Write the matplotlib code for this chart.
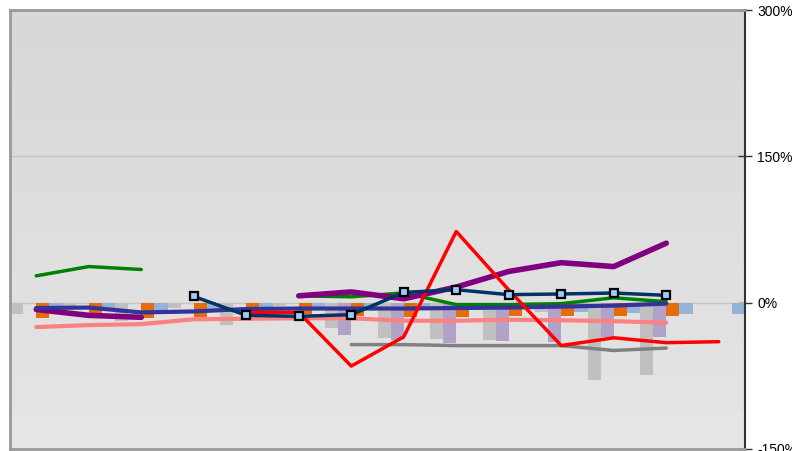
import matplotlib
matplotlib.use("Agg")
import matplotlib.pyplot as plt
import numpy as np
from matplotlib.ticker import FuncFormatter, FixedLocator

nan = np.nan
cats = np.arange(14)

# bar series (percent)
bar_gray   = [-12, -3, -19, -5, -23, -3, -26, -36, -37, -38, -10, -79, -74, nan]
bar_lav    = [nan, nan, nan, nan, nan, nan, -33, -38, -41, -39, -40, -35, -35, nan]
bar_orange = [-16, -16, -16, -15, -10, -12, -14, -15, -15, -14, -14, -14, -14, nan]
bar_blue   = [-8, -8, -8, -8, -8, -5, -5, -5, -5, -5, -10, -11, -12, -12]

# line series (percent)
green  = [27.5, 37, 34, nan, nan, 7, 6, 10, -2, -2, -1, 5, 1, nan]
purple = [-7, -13, -15, nan, nan, 7, 11, 4, 16, 32, 41, 37, 61, nan]
red    = [nan, nan, nan, nan, -10, -10, -65, -35, 73, 13, -44, -36, -41, -40]
navy   = [nan, nan, nan, 6.4, -13, -14, -12.3, 10.5, 13.3, 8.2, 8.9, 9.9, 7.5, nan]
indigo = [-5.5, -5, -10, -9, -6.5, -6, -6, -6, -5.5, -5, -4, -3, -1, nan]
pink   = [-25, -23, -22, -17, -16.5, -16, -16, -18.5, -18.5, -17.5, -18, -19, -20.5, nan]
grayl  = [nan, nan, nan, nan, nan, nan, -43, -43, -44, -44, -44, -49, -46.5, nan]

yticks = [-150, 0, 150, 300]

fig = plt.figure(figsize=(7.92, 4.51), dpi=100)
ax = fig.add_axes([10 / 792, 2 / 451, 735 / 792, 439 / 451])
ax.set_xlim(-0.5, 13.5)
ax.set_ylim(-150, 300)

# gradient background
grad = np.linspace(0.895, 0.845, 12).reshape(-1, 1)
ax.imshow(grad, cmap="gray", vmin=0, vmax=1, aspect="auto",
          extent=(-0.5, 13.5, -150, 300), origin="lower", zorder=0)

for y in (0, 150):
    ax.axhline(y, color="#c4c4c4", lw=1, zorder=1)

w = 0.25
for i, (vals, col) in enumerate([(bar_gray, "#c0c0c0"), (bar_lav, "#b3a2c7"),
                                 (bar_orange, "#e46c0a"), (bar_blue, "#95b3d7")]):
    ax.bar(cats - 0.375 + i * w, vals, width=w, color=col, zorder=2, linewidth=0)

kw = dict(solid_capstyle="round", solid_joinstyle="round", zorder=3)
ax.plot(cats, grayl, color="#808080", lw=2.5, **kw)
ax.plot(cats, pink, color="#ff8080", lw=3, **kw)
ax.plot(cats, green, color="#008000", lw=2.5, **kw)
ax.plot(cats, purple, color="#800080", lw=4, **kw)
ax.plot(cats, indigo, color="#333399", lw=3, **kw)
ax.plot(cats, red, color="#ff0000", lw=2.5, **kw)
ax.plot(cats, navy, color="#003366", lw=2.5, marker="s", markersize=5.5,
        markerfacecolor="#99ccff", markeredgecolor="black", markeredgewidth=1.6, **kw)

ax.set_xticks([])
ax.yaxis.tick_right()
ax.yaxis.set_major_locator(FixedLocator(yticks))
ax.yaxis.set_major_formatter(FuncFormatter(lambda v, p: f"{int(v)}%"))
ax.tick_params(axis="y", direction="inout", length=10, width=1, color="#333333",
               labelsize=10, pad=4, labelfontfamily="Liberation Sans")
for s in ("left", "top", "bottom"):
    ax.spines[s].set_color("#999999")
    ax.spines[s].set_linewidth(2)
ax.spines["right"].set_color("#333333")
ax.spines["right"].set_linewidth(1.5)

fig.savefig("out.png", dpi=100)
